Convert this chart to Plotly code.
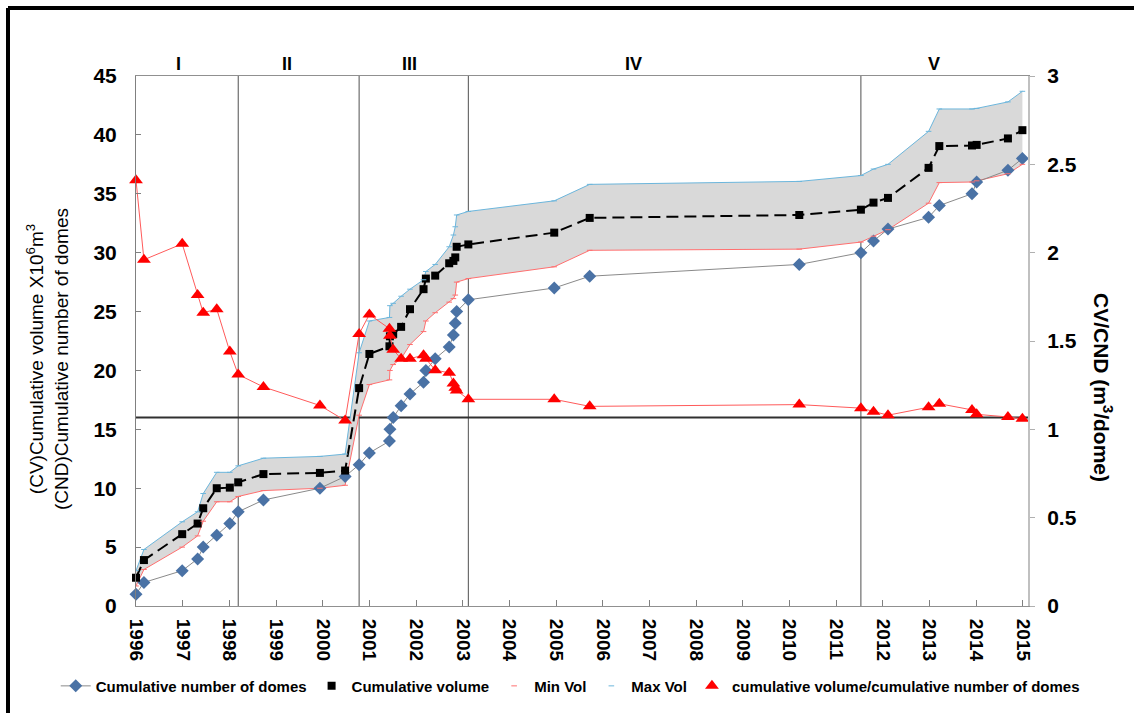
import plotly.graph_objects as go

# ---- data ----
years = [1996.00, 1996.17, 1996.99, 1997.32, 1997.44, 1997.73, 1998.01, 1998.19, 1998.73, 1999.94,
         2000.48, 2000.78, 2001.00, 2001.43, 2001.44, 2001.51, 2001.68, 2001.87, 2002.16, 2002.21,
         2002.41, 2002.71, 2002.80, 2002.84, 2002.87, 2003.12, 2004.96, 2005.72, 2010.21, 2011.53,
         2011.80, 2012.11, 2012.98, 2013.21, 2013.91, 2014.01, 2014.68, 2014.99]

cum_domes = [1, 2, 3, 4, 5, 6, 7, 8, 9, 10, 11, 12, 13, 14, 15, 16, 17, 18, 19, 20,
             21, 22, 23, 24, 25, 26, 27, 28, 29, 30, 31, 32, 33, 34, 35, 36, 37, 38]

cum_volume = [2.4, 3.9, 6.1, 7.0, 8.3, 10.0, 10.05, 10.5, 11.2, 11.3,
              11.5, 18.5, 21.4, 22.05, 22.9, 23.1, 23.7, 25.2, 26.9, 27.8,
              28.05, 29.1, 29.3, 29.6, 30.5, 30.7, 31.7, 32.95, 33.2, 33.65,
              34.25, 34.65, 37.2, 39.05, 39.1, 39.15, 39.7, 40.4]

min_vol = [1.7, 3.1, 5.0, 5.95, 7.2, 8.85, 8.85, 9.3, 9.8, 10.0,
           10.25, 16.2, 18.8, 19.2, 20.0, 20.5, 21.0, 22.2, 23.3, 24.2,
           24.9, 25.8, 26.1, 26.4, 27.5, 27.8, 28.8, 30.2, 30.3, 30.9,
           31.4, 31.95, 34.2, 35.95, 36.0, 36.1, 36.7, 37.5]

max_vol = [3.0, 4.8, 7.15, 8.0, 9.55, 11.35, 11.35, 11.9, 12.55, 12.7,
           12.9, 21.5, 24.2, 24.5, 25.5, 25.7, 26.3, 26.9, 27.7, 28.4,
           29.0, 30.5, 31.5, 32.2, 33.2, 33.5, 34.4, 35.8, 36.05, 36.55,
           37.1, 37.5, 40.3, 42.2, 42.2, 42.25, 42.8, 43.7]

ratio = [2.41, 1.96, 2.05, 1.76, 1.66, 1.68, 1.44, 1.31, 1.24, 1.135,
         1.05, 1.54, 1.65, 1.57, 1.53, 1.45, 1.40, 1.40, 1.42, 1.40,
         1.335, 1.32, 1.26, 1.235, 1.22, 1.17, 1.17, 1.13, 1.14, 1.12,
         1.10, 1.08, 1.125, 1.145, 1.11, 1.085, 1.07, 1.06]

period_bounds = [1998.19, 2000.78, 2003.12, 2011.53]
period_labels = ["I", "II", "III", "IV", "V"]
period_label_x = [1996.92, 1999.24, 2001.87, 2006.65, 2013.10]
ref_level = 16

tick_years = list(range(1996, 2016))

FONT = "Arial, Liberation Sans, sans-serif"
RED_LINE = "#ff6f6f"
BLUE_LINE = "#6cb6dc"

fig = go.Figure()

# grey band between min and max volume
fig.add_trace(go.Scatter(x=years, y=min_vol, mode="lines", line=dict(width=0),
                         showlegend=False, hoverinfo="skip"))
fig.add_trace(go.Scatter(x=years, y=max_vol, mode="lines", line=dict(width=0),
                         fill="tonexty", fillcolor="#d9d9d9", showlegend=False, hoverinfo="skip"))

# envelope lines
fig.add_trace(go.Scatter(x=years, y=min_vol, mode="lines", line=dict(color=RED_LINE, width=1),
                         showlegend=False))
fig.add_trace(go.Scatter(x=years, y=max_vol, mode="lines", line=dict(color=BLUE_LINE, width=1),
                         showlegend=False))

# cumulative number of domes
fig.add_trace(go.Scatter(x=years, y=cum_domes, mode="lines+markers",
                         name="Cumulative number of domes",
                         line=dict(color="#8a8a8a", width=1),
                         marker=dict(symbol="diamond", size=10, color="#4a72a5"),
                         cliponaxis=False, legendrank=1))

# cumulative volume
fig.add_trace(go.Scatter(x=years, y=cum_volume, mode="lines",
                         line=dict(color="black", width=2, dash="12px,6px"),
                         showlegend=False))
fig.add_trace(go.Scatter(x=years, y=cum_volume, mode="markers", name="Cumulative volume",
                         marker=dict(symbol="square", size=8, color="black"),
                         cliponaxis=False, legendrank=2))

# legend-only style markers for min / max (tiny dashes at the vertices)
fig.add_trace(go.Scatter(x=years, y=min_vol, mode="markers", name="Min Vol",
                         marker=dict(symbol="line-ew", size=4, line=dict(color=RED_LINE, width=1)),
                         legendrank=3))
fig.add_trace(go.Scatter(x=years, y=max_vol, mode="markers", name="Max Vol",
                         marker=dict(symbol="line-ew", size=4, line=dict(color=BLUE_LINE, width=1)),
                         legendrank=4))

# ratio on the right axis
fig.add_trace(go.Scatter(x=years, y=ratio, mode="lines", yaxis="y2",
                         line=dict(color="#ff5a5a", width=1), showlegend=False))
fig.add_trace(go.Scatter(x=years, y=ratio, mode="markers", yaxis="y2",
                         name="cumulative volume/cumulative number of domes",
                         marker=dict(symbol="triangle-up", size=12, color="#ff0000"),
                         cliponaxis=False, legendrank=5))

shapes = []
for xb in period_bounds:
    shapes.append(dict(type="line", xref="x", yref="paper", x0=xb, x1=xb, y0=0, y1=1,
                       line=dict(color="#505050", width=1), layer="between"))
shapes.append(dict(type="line", xref="paper", yref="y", x0=0, x1=1, y0=ref_level, y1=ref_level,
                   line=dict(color="#303030", width=2), layer="between"))
# outer thick frame (top and left edges)
shapes.append(dict(type="line", xref="paper", yref="paper", x0=-0.1435, x1=1.2, y0=1.1281, y1=1.1281,
                   line=dict(color="black", width=4)))
shapes.append(dict(type="line", xref="paper", yref="paper", x0=-0.1435, x1=-0.1435, y0=1.1281, y1=-0.25,
                   line=dict(color="black", width=4)))

annotations = []
for lab, lx in zip(period_labels, period_label_x):
    annotations.append(dict(x=lx, y=1.045, xref="x", yref="paper", text=lab, showarrow=False,
                            font=dict(family=FONT, size=18, color="black", weight="bold")))
annotations.append(dict(x=0, y=0.5, xref="paper", yref="paper", xshift=-89, yshift=-18,
                        xanchor="center", yanchor="middle",
                        text="(CV)Cumulative volume X10<sup>6</sup>m<sup>3</sup><br>(CND)Cumulative number of domes",
                        textangle=-90, showarrow=False, align="center",
                        font=dict(family=FONT, size=19, color="black")))
annotations.append(dict(x=1, y=0.5, xref="paper", yref="paper", xshift=75, yshift=-46,
                        xanchor="center", yanchor="middle",
                        text="CV/CND (m<sup>3</sup>/dome)", textangle=90, showarrow=False,
                        font=dict(family=FONT, size=21, color="black", weight="bold")))

fig.update_layout(
    width=1134, height=713,
    margin=dict(l=136, r=106, t=76, b=106),
    paper_bgcolor="white", plot_bgcolor="white",
    font=dict(family=FONT, color="black"),
    showlegend=True,
    legend=dict(orientation="h", x=-0.09, y=-0.149, xanchor="left", yanchor="middle",
                traceorder="normal",
                font=dict(family=FONT, size=15, color="black", weight="bold"),
                itemwidth=30, tracegroupgap=0, bgcolor="rgba(0,0,0,0)"),
    xaxis=dict(range=[1996, 2015.11], tickvals=tick_years, ticktext=[str(t) for t in tick_years],
               tickangle=90, ticks="inside", ticklen=6, tickcolor="#808080",
               showgrid=False, zeroline=False, showline=True, linecolor="#909090", linewidth=1,
               mirror=True, ticklabelstandoff=8,
               tickfont=dict(family=FONT, size=19, color="black", weight="bold")),
    yaxis=dict(range=[0, 45], dtick=5, ticks="inside", ticklen=5, tickcolor="#808080",
               showgrid=False, zeroline=False, showline=True, linecolor="#808080", linewidth=1,
               ticklabelstandoff=14,
               tickfont=dict(family=FONT, size=21, color="black", weight="bold")),
    yaxis2=dict(range=[0, 3], dtick=0.5, overlaying="y", side="right", ticks="outside",
                ticklen=5, tickcolor="#b0b0b0", showgrid=False, zeroline=False,
                showline=True, linecolor="#c0c0c0", linewidth=2, ticklabelstandoff=8,
                tickfont=dict(family=FONT, size=21, color="black", weight="bold")),
    shapes=shapes,
    annotations=annotations,
)

fig.write_html("out.html")
